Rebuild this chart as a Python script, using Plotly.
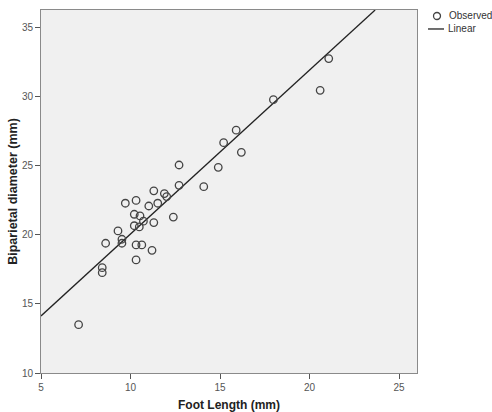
import plotly.graph_objects as go

# Data
foot_length = [7.1, 8.42, 8.42, 8.61, 9.30, 9.52, 9.52, 9.71, 10.31, 10.21, 10.53, 10.21,
               10.49, 10.72, 10.31, 10.63, 10.31, 11.2, 11.02, 11.52, 11.3, 12.39, 12.71,
               12.71, 11.3, 11.89, 12.02, 14.09, 14.9, 15.2, 15.9, 16.19, 17.98, 21.07, 20.59]
biparietal = [13.5, 17.63, 17.27, 19.4, 20.29, 19.69, 19.4, 22.3, 22.5, 21.5, 21.38, 20.67,
              20.58, 21.0, 19.28, 19.28, 18.19, 18.89, 22.1, 22.3, 20.9, 21.3, 25.07,
              23.6, 23.2, 23.0, 22.78, 23.5, 24.9, 26.69, 27.59, 25.99, 29.8, 32.78, 30.48]

# Linear fit shown in the reference
fit_intercept = 8.19
fit_slope = 1.188

x_range = [5, 26]
y_range = [10, 36.3]
x_ticks = [5, 10, 15, 20, 25]
y_ticks = [10, 15, 20, 25, 30, 35]

line_x = [x_range[0], (y_range[1] - fit_intercept) / fit_slope]
line_y = [fit_intercept + fit_slope * v for v in line_x]

fig = go.Figure()
fig.add_trace(go.Scatter(
    x=line_x, y=line_y, mode="lines", name="Linear",
    line=dict(color="#222222", width=1.3), showlegend=False, hoverinfo="skip"))
fig.add_trace(go.Scatter(
    x=foot_length, y=biparietal, mode="markers", name="Observed",
    marker=dict(symbol="circle-open", size=7.5, color="#444444", line=dict(width=1.3)),
    showlegend=False))

axis_common = dict(
    showgrid=False, zeroline=False, showline=True, linecolor="#8a8a8a", linewidth=1,
    mirror=True, ticks="outside", ticklen=5, tickcolor="#555555", tickwidth=1,
    automargin=False,
    tickfont=dict(family="Liberation Sans, Arial, sans-serif", size=10, color="#555555"),
)

fig.update_layout(
    width=492, height=412,
    margin=dict(l=41, r=75, t=10, b=39),
    paper_bgcolor="white", plot_bgcolor="#f0f0f0",
    xaxis=dict(range=x_range, tickvals=x_ticks, **axis_common,
               title=dict(text="<b>Foot Length (mm)</b>", standoff=10,
                          font=dict(family="Liberation Sans, Arial, sans-serif", size=12, color="#222222"))),
    yaxis=dict(range=y_range, tickvals=y_ticks, **axis_common,
               title=dict(text="<b>Biparietal diameter (mm)</b>", standoff=1,
                          font=dict(family="Liberation Sans, Arial, sans-serif", size=12.5, color="#222222"))),
    showlegend=False,
)

# Custom legend (top right, outside plot area)
leg_font = dict(family="Liberation Sans, Arial, sans-serif", size=10, color="#333333")
fig.add_shape(type="circle", xref="paper", yref="paper", xsizemode="pixel", ysizemode="pixel",
              xanchor=1.0532, yanchor=0.9835, x0=-3.5, x1=3.5, y0=-3.5, y1=3.5,
              line=dict(color="#444444", width=1.3))
fig.add_shape(type="line", xref="paper", yref="paper", x0=1.0293, x1=1.0718, y0=0.9477, y1=0.9477,
              line=dict(color="#222222", width=1.3))
fig.add_annotation(text="Observed", xref="paper", yref="paper", x=1.0798, y=0.9835,
                   xanchor="left", yanchor="middle", showarrow=False, font=leg_font)
fig.add_annotation(text="Linear", xref="paper", yref="paper", x=1.0771, y=0.9477,
                   xanchor="left", yanchor="middle", showarrow=False, font=leg_font)

fig.write_html("out.html")
